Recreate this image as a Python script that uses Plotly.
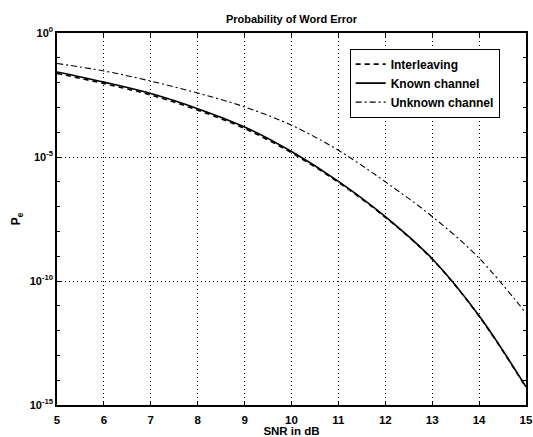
import plotly.graph_objects as go

snr = [5, 6, 7, 8, 9, 10, 11, 12, 13, 14, 15]
known_log = [-1.57, -1.98, -2.44, -3.05, -3.79, -4.78, -5.98, -7.40, -9.10, -11.40, -14.27]
inter_log = [-1.63, -2.04, -2.50, -3.11, -3.85, -4.83, -6.02, -7.43, -9.12, -11.42, -14.29]
unknown_log = [-1.23, -1.53, -1.94, -2.42, -2.98, -3.72, -4.73, -6.00, -7.40, -9.08, -11.30]

known = [10 ** v for v in known_log]
inter = [10 ** v for v in inter_log]
unknown = [10 ** v for v in unknown_log]

ytick_vals = [1, 1e-5, 1e-10, 1e-15]
ytick_text = ["<b>10<sup>0</sup></b>", "<b>10<sup>-5</sup></b>", "<b>10<sup>-10</sup></b>", "<b>10<sup>-15</sup></b>"]
xtick_vals = list(range(5, 16))
xtick_text = ["<b>%d</b>" % v for v in xtick_vals]

fig = go.Figure()
fig.add_trace(go.Scatter(x=snr, y=inter, mode="lines", name="<b>Interleaving</b>",
                         line=dict(color="black", width=1.6, dash="5px,4px", shape="spline", smoothing=1.0)))
fig.add_trace(go.Scatter(x=snr, y=known, mode="lines", name="<b>Known channel</b>",
                         line=dict(color="black", width=1.6, shape="spline", smoothing=1.0)))
fig.add_trace(go.Scatter(x=snr, y=unknown, mode="lines", name="<b>Unknown channel</b>",
                         line=dict(color="black", width=1.1, dash="6px,3px,2px,3px", shape="spline", smoothing=1.0)))

font_family = "Liberation Sans, Arial, sans-serif"
fig.update_layout(
    width=533, height=437,
    margin=dict(l=57, r=0, t=33, b=31),
    paper_bgcolor="white", plot_bgcolor="white",
    font=dict(family=font_family, color="black", size=12),
    title=dict(text="<b>Probability of Word Error</b>", x=0.5, xanchor="center", xref="paper",
               y=0.957, yanchor="middle", font=dict(size=11)),
    showlegend=True,
    legend=dict(x=0.624, y=0.958, xanchor="left", yanchor="top",
                bordercolor="black", borderwidth=1, bgcolor="white",
                font=dict(size=12)),
    xaxis=dict(range=[5, 15], tickvals=xtick_vals, ticktext=xtick_text,
               ticks="inside", ticklen=4, tickcolor="black",
               showline=True, linecolor="black", linewidth=1.5, mirror="ticks",
               showgrid=True, gridcolor="black", griddash="1px,3px", gridwidth=1,
               zeroline=False, tickfont=dict(size=11.5), ticklabelstandoff=3,
               ticklabeloverflow="allow",
               title=dict(text="<b>SNR in dB</b>", standoff=3, font=dict(size=11.5))),
    yaxis=dict(type="log", range=[-15, 0], tickvals=ytick_vals, ticktext=ytick_text,
               ticks="inside", ticklen=4, tickcolor="black",
               showline=True, linecolor="black", linewidth=1.5, mirror="ticks",
               showgrid=True, gridcolor="black", griddash="1px,3px", gridwidth=1,
               zeroline=False, tickfont=dict(size=11),
               minor=dict(dtick=1, ticks="inside", ticklen=3, tickcolor="black", showgrid=False),
               title=dict(text="<b>P<sub>e</sub></b>", standoff=6, font=dict(size=12))),
)

fig.write_html("out.html")
